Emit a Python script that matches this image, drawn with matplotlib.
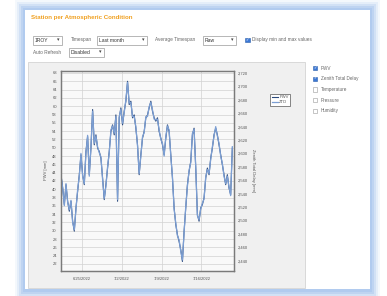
import matplotlib
matplotlib.use("Agg")
import matplotlib.pyplot as plt
import matplotlib.dates as mdates
from matplotlib.patches import Rectangle
from matplotlib.ticker import FuncFormatter, MultipleLocator
import pandas as pd

# ---------------- data ----------------
start_time = "2022-06-21 09:00"
sample_step = "7h"
pwv = [43.5, 40.3, 36.3, 41.1, 37.1, 34.7, 37.1, 32.3, 29.9, 35.5,
       39.5, 43.5, 48.3, 43.5, 41.1, 49.1, 52.7, 43.5, 49.9, 59.2,
       50.7, 53.1, 49.9, 49.1, 47.5, 42.7, 37.5, 41.1, 45.1, 49.1,
       53.9, 55.5, 53.1, 57.9, 37.1, 57.2, 59.6, 55.5, 58.8, 61.2,
       66.0, 60.4, 61.2, 57.2, 57.9, 54.7, 50.7, 43.5, 48.3, 52.3,
       53.9, 57.2, 57.9, 59.6, 61.2, 58.8, 57.2, 56.4, 57.2, 53.9,
       52.3, 50.7, 48.3, 52.3, 55.5, 53.9, 48.3, 42.7, 35.5, 31.5,
       29.0, 27.4, 25.4, 22.6, 29.9, 35.5, 41.1, 44.3, 46.7, 53.1,
       54.7, 45.1, 33.9, 32.3, 35.5, 36.3, 37.9, 42.7, 45.1, 43.5,
       47.5, 49.9, 53.1, 54.7, 53.1, 50.7, 48.3, 45.9, 43.5, 41.1,
       43.5, 40.3, 38.7, 49.9]
ztd = [2566, 2549, 2522, 2555, 2527, 2516, 2530, 2497, 2486, 2517,
       2546, 2566, 2600, 2566, 2555, 2601, 2627, 2566, 2610, 2663,
       2615, 2626, 2610, 2601, 2595, 2561, 2533, 2551, 2580, 2601,
       2635, 2641, 2630, 2655, 2531, 2655, 2666, 2645, 2661, 2680,
       2706, 2675, 2676, 2655, 2655, 2640, 2611, 2570, 2596, 2625,
       2631, 2655, 2655, 2670, 2676, 2665, 2651, 2650, 2651, 2635,
       2621, 2615, 2596, 2625, 2641, 2635, 2596, 2565, 2517, 2496,
       2477, 2471, 2454, 2441, 2482, 2521, 2551, 2575, 2586, 2630,
       2636, 2580, 2507, 2501, 2517, 2526, 2532, 2565, 2576, 2570,
       2591, 2610, 2626, 2640, 2626, 2615, 2596, 2585, 2566, 2555,
       2566, 2550, 2537, 2610]
x_ticks = ["2022-06-25", "2022-07-02", "2022-07-09", "2022-07-16"]
x_range = ["2022-06-21 09:00", "2022-07-21 17:00"]
pwv_range = (20.3, 68.6)
ztd_range = (2424.6, 2723.7)
times = pd.date_range(start=start_time, periods=len(pwv), freq=sample_step)

# ---------------- figure ----------------
W, H = 387, 296
fig = plt.figure(figsize=(W / 100, H / 100), dpi=100)
fig.patch.set_facecolor("white")
FONT = ["Liberation Sans", "DejaVu Sans"]


def fx(x):
    return x / W


def fy(y):
    return 1 - y / H


def rect(x0, y0, x1, y1, z=-5, **kw):
    r = Rectangle((fx(x0), fy(y1)), fx(x1) - fx(x0), fy(y0) - fy(y1),
                  transform=fig.transFigure, zorder=z, **kw)
    fig.add_artist(r)
    return r


def txt(x, y, s, size=3.6, color="#555555", **kw):
    fig.text(fx(x), fy(y), s, fontsize=size, color=color, family=FONT,
             va="center", ha=kw.pop("ha", "left"), **kw)


# blue glow frame
for i, a in enumerate([0.12, 0.2, 0.3, 0.45, 0.6]):
    d = 5 - i
    rect(25 - 2 * d, 10 - 2 * d, 370 + 2 * d, 290 + 2 * d, z=-10 + i,
         facecolor="#a9c6ee", edgecolor="none", alpha=a)
rect(25, 10, 370, 289, z=-4, facecolor="white", edgecolor="none")

# title
txt(31, 17, "Station per Atmospheric Condition", size=4.4,
    color="#f0a020", fontweight="bold")


def dropdown(x0, x1, y, label):
    rect(x0, y - 4.5, x1, y + 4.5, z=-2, facecolor="white",
         edgecolor="#9a9a9a", linewidth=0.5)
    txt(x0 + 2, y, label, size=3.6, color="#333333")
    txt(x1 - 2.5, y, "\u25be", size=3.6, color="#444444", ha="right")


def checkbox(x, y, checked, s=4.5):
    if checked:
        rect(x, y - s / 2, x + s, y + s / 2, z=-1, facecolor="#3b78d6",
             edgecolor="#2c5faa", linewidth=0.4)
        txt(x + s / 2, y, "\u2713", size=3.0, color="white", ha="center")
    else:
        rect(x, y - s / 2, x + s, y + s / 2, z=-1, facecolor="white",
             edgecolor="#9a9a9a", linewidth=0.4)


# controls row 1
dropdown(33, 62, 40, "1ROY")
txt(71, 40, "Timespan", size=3.4, color="#666666")
dropdown(97, 147, 40, "Last month")
txt(155, 40, "Average Timespan", size=3.4, color="#666666")
dropdown(203, 236, 40, "Raw")
checkbox(245, 40, True)
txt(252, 40, "Display min and max values", size=3.4, color="#666666")
# controls row 2
txt(33, 52, "Auto Refresh", size=3.4, color="#666666")
dropdown(69, 104, 52, "Disabled")

# chart background and side panel
rect(28, 62, 305, 288, z=-3, facecolor="#f0f0f0", edgecolor="#d4d4d4",
     linewidth=0.6)
series_opts = ["PWV", "Zenith Total Delay", "Temperature", "Pressure",
               "Humidity"]
series_on = [True, True, False, False, False]
for i, (lab, on) in enumerate(zip(series_opts, series_on)):
    yy = 68 + i * 10.7
    checkbox(313, yy, on, s=4.2)
    txt(321, yy, lab, size=3.3, color="#666666")

# ---------------- plot ----------------
ax = fig.add_axes([fx(61), fy(271), fx(234) - fx(61), fy(70.5) - fy(271)])
ax.set_facecolor("#f9f9f9")
ax2 = ax.twinx()
ax.set_zorder(5)
ax2.set_zorder(6)
ax2.patch.set_visible(False)

ax2.plot(times, ztd, color="#7c9fd4", linewidth=0.9, zorder=2, label="ZTD")
ax.plot(times, pwv, color="#2c4a7c", linewidth=0.8, zorder=3, label="PWV")

ax.set_xlim(pd.Timestamp(x_range[0]), pd.Timestamp(x_range[1]))
ax.set_ylim(*pwv_range)
ax2.set_ylim(*ztd_range)

ax.yaxis.set_major_locator(MultipleLocator(2))
ax2.yaxis.set_major_locator(MultipleLocator(20))
ax.set_xticks([pd.Timestamp(t) for t in x_ticks])


def date_fmt(v, pos):
    d = mdates.num2date(v)
    return f"{d.month}/{d.day}/{d.year}"


ax.xaxis.set_major_formatter(FuncFormatter(date_fmt))
ax2.yaxis.set_major_formatter(FuncFormatter(lambda v, p: f"{int(round(v)):,}"))

ax.grid(True, color="#d2d2d2", linewidth=0.5)
ax.set_axisbelow(True)

for a in (ax, ax2):
    for sp in a.spines.values():
        sp.set_color("#7a7a7a")
        sp.set_linewidth(0.9)
    a.tick_params(length=0, labelsize=3.0, colors="#555555", pad=3)
    for lab in a.get_xticklabels() + a.get_yticklabels():
        lab.set_family(FONT)
ax.tick_params(axis="x", pad=4)

ax.set_ylabel("PWV [mm]", fontsize=3.0, color="#555555", family=FONT,
              labelpad=3)
ax2.set_ylabel("Zenith Total Delay [mm]", fontsize=3.0, color="#555555",
               family=FONT, rotation=270, labelpad=5)

# legend
h1, l1 = ax.get_legend_handles_labels()
h2, l2 = ax2.get_legend_handles_labels()
leg = fig.legend(h1 + h2, l1 + l2, loc="upper left",
                 bbox_to_anchor=(fx(268), fy(91.5)),
                 prop={"family": FONT, "size": 3.0},
                 frameon=True, fancybox=False, handlelength=1.4,
                 handletextpad=0.4, borderpad=0.4, labelspacing=0.2,
                 edgecolor="#555555", framealpha=1)
leg.set_zorder(10)
leg.get_frame().set_linewidth(0.5)
for t in leg.get_texts():
    t.set_color("#555555")

fig.savefig("out.png", dpi=100, facecolor=fig.get_facecolor())
